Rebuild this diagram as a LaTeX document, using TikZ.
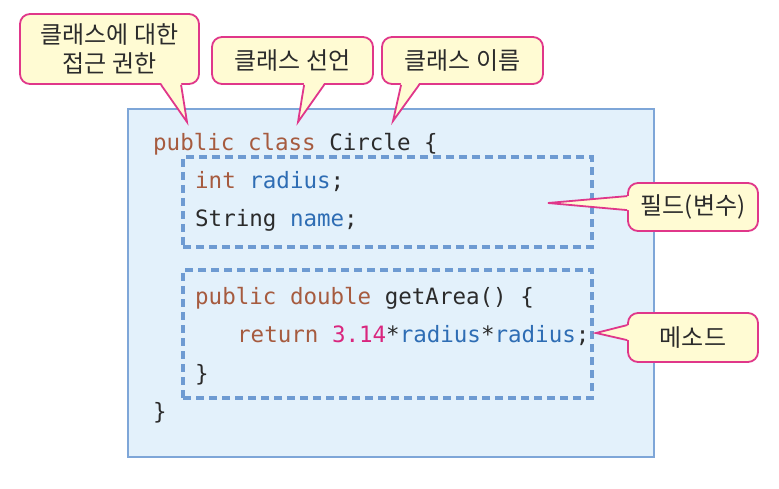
\documentclass[tikz,border=0pt]{standalone}
\usepackage{fontspec}
\usepackage{tikz}
\usetikzlibrary{calc}
\newfontfamily\kfont{Noto Sans CJK KR}
\newfontfamily\codefont{DejaVu Sans Mono}
\definecolor{boxfill}{HTML}{E3F1FB}
\definecolor{boxline}{HTML}{7EA6D8}
\definecolor{dashline}{HTML}{6E9BD2}
\definecolor{callbg}{HTML}{FFFBD3}
\definecolor{callpink}{HTML}{E0378A}
\definecolor{kwbrown}{HTML}{A65B3F}
\definecolor{varblue}{HTML}{2E6DB4}
\definecolor{numpink}{HTML}{D9267E}
\definecolor{plain}{HTML}{2B2B2B}
\newcommand{\kw}[1]{\textcolor{kwbrown}{#1}}
\newcommand{\cvar}[1]{\textcolor{varblue}{#1}}
\newcommand{\cnum}[1]{\textcolor{numpink}{#1}}

\begin{document}
\begin{tikzpicture}[x=1pt, y=-1pt,
    codebox/.style={draw=boxline, line width=2pt, fill=boxfill, minimum width=526, minimum height=348, inner sep=0pt},
    partbox/.style={draw=dashline, line width=3.5pt, dash pattern=on 8pt off 5pt, minimum width=409, inner sep=0pt},
    code/.style={anchor=base west, inner sep=0pt, text=plain, font=\codefont\fontsize{22.5}{27}\selectfont},
    callout/.style={draw=callpink, line width=1.8pt, fill=callbg, rounded corners=10pt, inner sep=0pt,
                    align=center, text=plain, font=\kfont\fontsize{24}{29}\selectfont},
    callline/.style={draw=callpink, line width=1.8pt, line join=miter}
  ]
    \useasboundingbox (0,0) rectangle (779,489);
    % class body
    \node[codebox] (cls) at (391, 283) {};
    \node[partbox, minimum height=90] (fld) at (387.5, 202) {};
    \node[partbox, minimum height=128] (mth) at (387.5, 334) {};

    % code lines
    \node[code] (l1) at (153, 151) {\kw{public class} Circle \{};
    \node[code] (l2) at (195, 189) {\kw{int} \cvar{radius};};
    \node[code] (l3) at (195, 227) {String \cvar{name};};
    \node[code] (l4) at (195, 304) {\kw{public double} getArea() \{};
    \node[code] (l5) at (237, 342) {\kw{return} \cnum{3.14}*\cvar{radius}*\cvar{radius};};
    \node[code] (l6) at (195, 381) {\}};
    \node[code] (l7) at (153, 419) {\}};

    % callouts
    \node[callout, minimum width=179, minimum height=70] (access) at (109.5, 49) {클래스에 대한\\접근 권한};
    \node[callout, minimum width=161, minimum height=47] (decl) at (292.5, 60.5) {클래스 선언};
    \node[callout, minimum width=161, minimum height=47] (cname) at (462.5, 60.5) {클래스 이름};
    \node[callout, minimum width=130, minimum height=48] (fldlbl) at (693, 207) {필드(변수)};
    \node[callout, minimum width=130, minimum height=49] (mthlbl) at (693, 337.5) {메소드};

    \coordinate (accTip) at (187, 122);
    \coordinate (declTip) at (298, 122);
    \coordinate (nameTip) at (393, 121);
    \coordinate (fldTip) at (548, 203);
    \coordinate (mthTip) at (596, 333);

    % pointers
    \fill[callbg] ($(access.south west)+(142,-2)$) -- (accTip) -- ($(access.south west)+(162,-2)$) -- cycle;
    \draw[callline] ($(access.south west)+(142,0)$) -- (accTip) -- ($(access.south west)+(162,0)$);
    \fill[callbg] ($(decl.south west)+(93,-2)$) -- (declTip) -- ($(decl.south west)+(113,-2)$) -- cycle;
    \draw[callline] ($(decl.south west)+(93,0)$) -- (declTip) -- ($(decl.south west)+(113,0)$);
    \fill[callbg] ($(cname.south west)+(20,-2)$) -- (nameTip) -- ($(cname.south west)+(38,-2)$) -- cycle;
    \draw[callline] ($(cname.south west)+(20,0)$) -- (nameTip) -- ($(cname.south west)+(38,0)$);
    \fill[callbg] ($(fldlbl.north west)+(2,14)$) -- (fldTip) -- ($(fldlbl.north west)+(2,28)$) -- cycle;
    \draw[callline] ($(fldlbl.north west)+(0,14)$) -- (fldTip) -- ($(fldlbl.north west)+(0,28)$);
    \fill[callbg] ($(mthlbl.north west)+(2,13)$) -- (mthTip) -- ($(mthlbl.north west)+(2,28)$) -- cycle;
    \draw[callline] ($(mthlbl.north west)+(0,13)$) -- (mthTip) -- ($(mthlbl.north west)+(0,28)$);
\end{tikzpicture}
\end{document}
